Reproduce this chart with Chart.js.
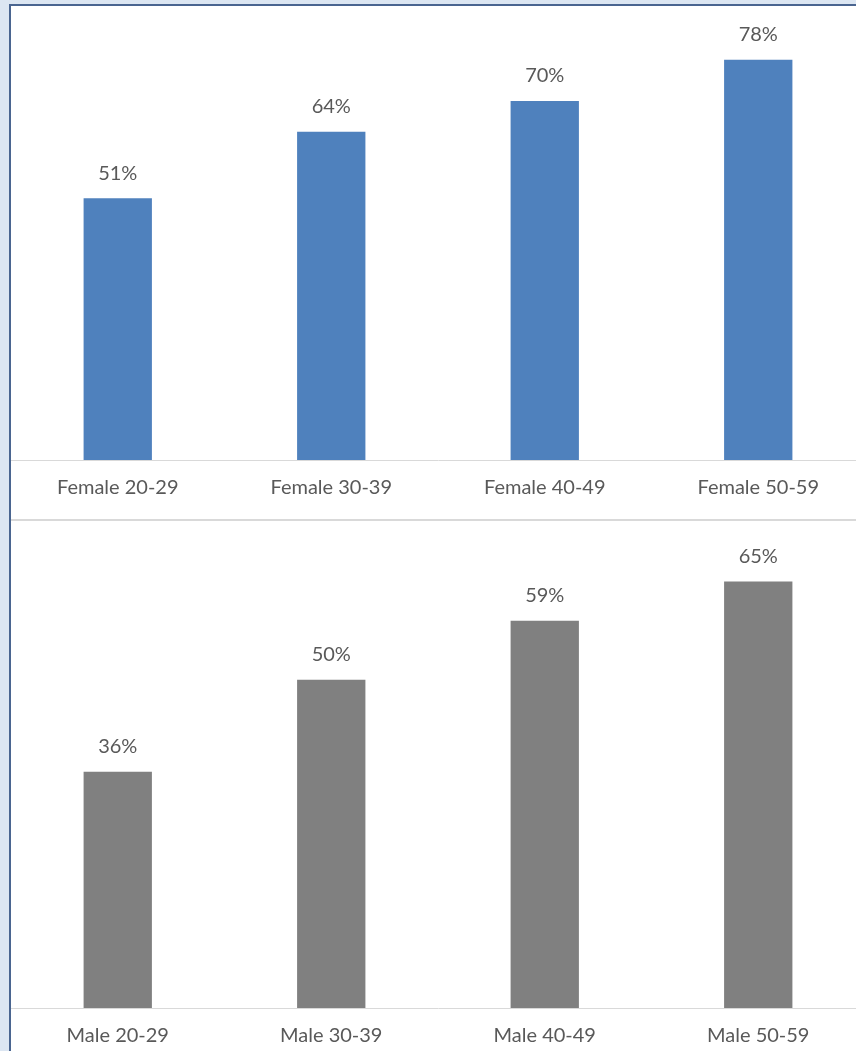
<!DOCTYPE html>
<html lang="en">
<head>
    <meta charset="UTF-8">
    <title>Share by age group</title>
    <script src="https://cdn.jsdelivr.net/npm/chart.js"></script>
    <style>
        body {
            margin: 0;
            padding: 0;
            background: #dce6f2;
            overflow: hidden;
            width: 856px;
            height: 1051px;
        }
        .frame {
            position: absolute;
            left: 9px;
            top: 4px;
            width: 900px;
            height: 1100px;
            background: #fff;
            border-left: 2px solid #4a6590;
            border-top: 2px solid #4a6590;
        }
        .panel {
            position: absolute;
            left: 0;
        }
        .sep {
            position: absolute;
            left: 0;
            top: 513px;
            width: 900px;
            height: 2px;
            background: #d9d9d9;
        }
    </style>
</head>
<body>
    <div class="frame">
        <canvas id="femaleChart" class="panel" width="854" height="513" style="top:0"></canvas>
        <div class="sep"></div>
        <canvas id="maleChart" class="panel" width="854" height="530" style="top:515px"></canvas>
    </div>

    <script>
        const femaleLabels = ['Female 20-29', 'Female 30-39', 'Female 40-49', 'Female 50-59'];
        const femaleValues = [51, 64, 70, 78];
        const maleLabels = ['Male 20-29', 'Male 30-39', 'Male 40-49', 'Male 50-59'];
        const maleValues = [36, 50, 59, 65];

        const textColor = '#595959';
        const fontFamily = 'Lato, sans-serif';

        // draws the "51%" style value labels above each bar
        const valueLabels = {
            id: 'valueLabels',
            afterDatasetsDraw(chart) {
                const ctx = chart.ctx;
                ctx.save();
                ctx.font = '20px ' + fontFamily;
                ctx.fillStyle = textColor;
                ctx.textAlign = 'center';
                ctx.textBaseline = 'middle';
                chart.data.datasets.forEach((ds, i) => {
                    chart.getDatasetMeta(i).data.forEach((bar, j) => {
                        ctx.fillText(ds.data[j] + '%', bar.x, bar.y - 25);
                    });
                });
                ctx.restore();
            }
        };

        function makeChart(id, labels, values, color, yMax, axisHeight) {
            return new Chart(document.getElementById(id).getContext('2d'), {
                type: 'bar',
                data: {
                    labels: labels,
                    datasets: [{
                        data: values,
                        backgroundColor: color,
                        barPercentage: 0.32,
                        categoryPercentage: 1
                    }]
                },
                options: {
                    responsive: false,
                    animation: false,
                    layout: { padding: 0 },
                    plugins: {
                        legend: { display: false },
                        tooltip: { enabled: false }
                    },
                    scales: {
                        x: {
                            grid: { display: false, drawTicks: false },
                            border: { display: true, color: '#d9d9d9', width: 1 },
                            ticks: {
                                color: textColor,
                                font: { family: fontFamily, size: 20 },
                                padding: 16,
                                maxRotation: 0
                            },
                            afterFit: (scale) => { scale.height = axisHeight; }
                        },
                        y: {
                            display: false,
                            min: 0,
                            max: yMax
                        }
                    }
                },
                plugins: [valueLabels]
            });
        }

        makeChart('femaleChart', femaleLabels, femaleValues, '#4f81bd', 88.5, 59);
        makeChart('maleChart', maleLabels, maleValues, '#808080', 74.2, 43);
    </script>
</body>
</html>
